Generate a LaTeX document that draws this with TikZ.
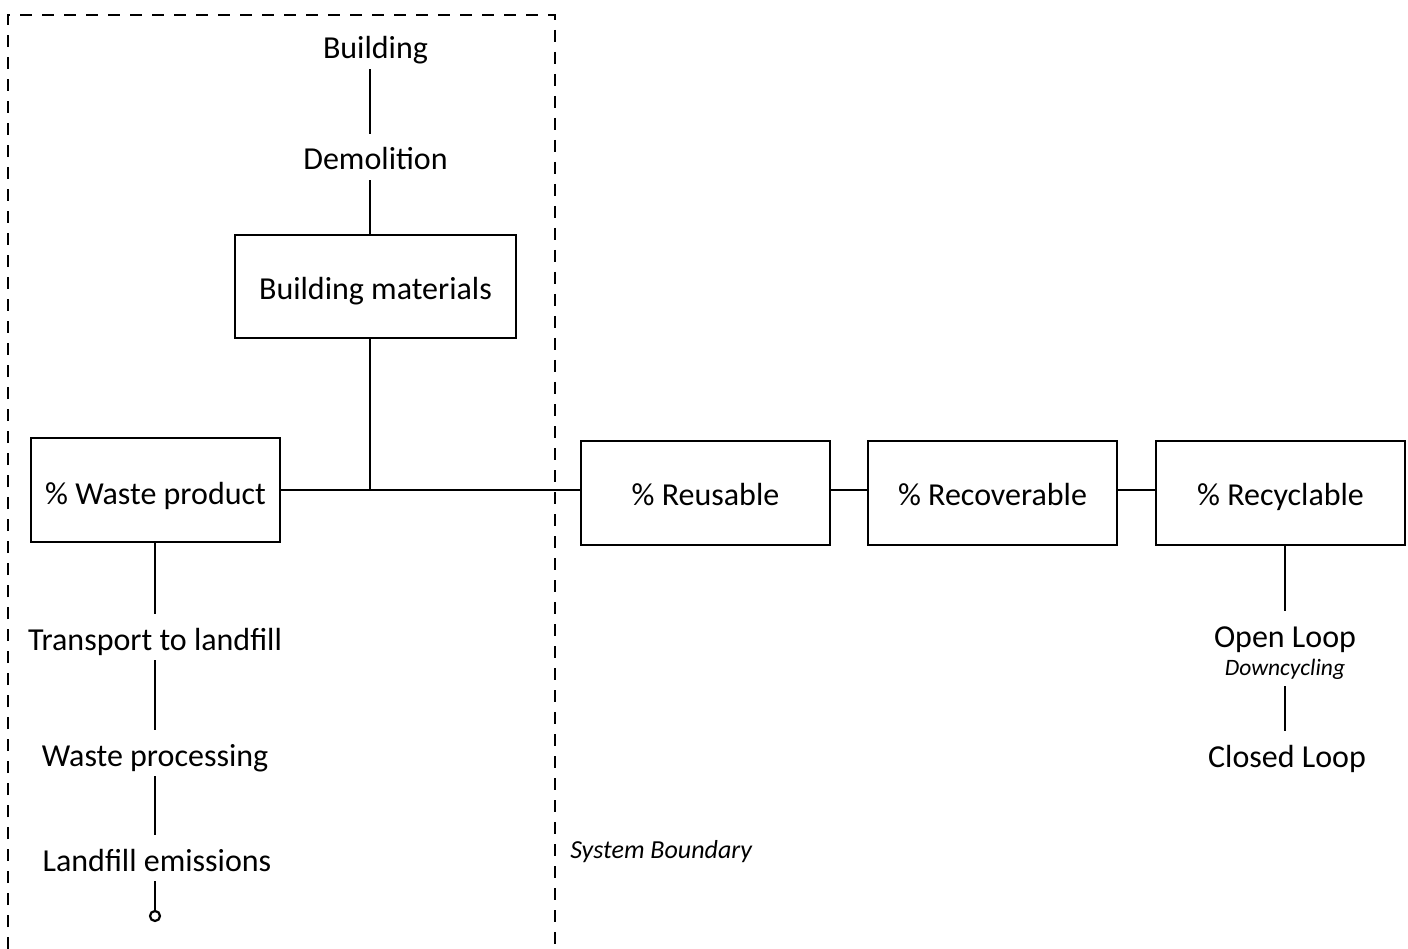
\documentclass[tikz,border=0pt]{standalone}
\usepackage{fontspec}
\setmainfont{Carlito}
\begin{document}
\begin{tikzpicture}[x=1pt,y=-1pt,
  line width=2.6pt,
  every node/.style={font=\fontsize{32}{38}\selectfont},
  box/.style={draw, minimum width=249pt, minimum height=104pt, inner sep=0pt,
              text height=24pt, text depth=0pt},
  label/.style={anchor=base, inner sep=0pt, text height=35pt, text depth=9pt},
  note/.style={inner sep=0pt, text depth=10pt, font=\fontsize{26}{30}\selectfont\itshape},
  boundary/.style={dash pattern=on 12pt off 10pt, line width=2.4pt}]
\useasboundingbox (0,0) rectangle (1408,949);

% system boundary (open at the bottom)
\draw[boundary] (8,949) -- (8,15) -- (555,15) -- (555,949);
\node[note, anchor=base west] (sysb) at (569,858) {System Boundary};

% demolition chain
\node[label] (bld) at (375.5,59) {Building};
\node[label] (demo) at (375.5,170) {Demolition};
\node[box, minimum width=281pt, minimum height=103pt, text height=27pt] (mat) at (375.5,286.5) {Building materials};
\coordinate (spine) at (370,0);

% main flow
\node[box, text height=28pt] (waste) at (155.5,490) {\% Waste product};
\node[box] (reuse) at (705.5,493) {\% Reusable};
\node[box] (recov) at (992.5,493) {\% Recoverable};
\node[box] (recyc) at (1280.5,493) {\% Recyclable};
\coordinate (junc) at (370,490);

% landfill chain
\node[label] (trans) at (155,650) {Transport to landfill};
\node[label] (proc) at (155,766) {Waste processing};
\node[label] (emis) at (157,871) {Landfill emissions};
\node[draw, circle, minimum size=10pt, inner sep=0pt, line width=2.2pt] (endc) at (155,916) {};

% recycling chain
\node[label] (open) at (1285,647) {Open Loop};
\node[note, anchor=base, font=\fontsize{23.5}{28}\selectfont\itshape] (down) at (1285,675) {Downcycling};
\node[label] (closed) at (1287,767) {Closed Loop};

% connectors
\draw (bld.south -| spine) -- (demo.north -| spine);
\draw (demo.south -| spine) -- (mat.north -| spine);
\draw (mat.south -| junc) -- (junc);
\draw (waste.east) -- (waste.east -| reuse.west);
\draw (reuse.east |- waste.east) -- (recov.west |- waste.east);
\draw (recov.east |- waste.east) -- (recyc.west |- waste.east);
\draw (waste.south -| trans.north) -- (trans.north);
\draw (trans.south) -- (proc.north);
\draw (proc.south) -- (emis.north -| proc.south);
\draw (emis.south -| endc) -- (endc.north);
\draw (recyc.south -| open.north) -- (open.north);
\draw (down.south) -- (closed.north -| down.south);
\end{tikzpicture}
\end{document}
